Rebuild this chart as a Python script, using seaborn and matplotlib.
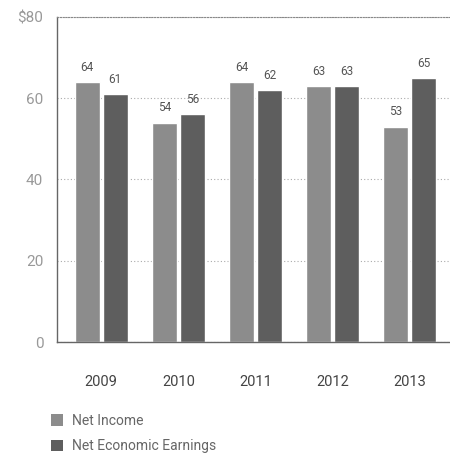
import matplotlib
matplotlib.use("Agg")
import matplotlib.pyplot as plt
import seaborn as sns
import pandas as pd
from matplotlib.patches import Patch

years = ["2009", "2010", "2011", "2012", "2013"]
net_income = [64, 54, 64, 63, 53]
net_economic = [61, 56, 62, 63, 65]
series = ["Net Income", "Net Economic Earnings"]
yticks = [0, 20, 40, 60, 80]
ytick_labels = ["0", "20", "40", "60", "$80"]

df = pd.DataFrame({
    "year": years * 2,
    "value": net_income + net_economic,
    "series": [series[0]] * len(years) + [series[1]] * len(years),
})

sns.set_style("white")
plt.rcParams["font.family"] = ["Roboto", "DejaVu Sans"]

colors = ["#8c8c8c", "#5e5e5e"]
fig = plt.figure(figsize=(4.5, 4.55), dpi=100)
ax = fig.add_axes([0.127, 0.248, 0.873, 0.715])

sns.barplot(data=df, x="year", y="value", hue="series", palette=colors,
            width=0.73, gap=0.11, ax=ax, legend=False, saturation=1)

for cont in ax.containers:
    ax.bar_label(cont, padding=6, fontsize=8.5, color="#555555")

ax.set_ylim(0, 80)
ax.set_xlim(-0.57, 4.52)
ax.set_yticks(yticks)
ax.set_yticklabels(ytick_labels)
ax.set_xlabel("")
ax.set_ylabel("")
ax.yaxis.grid(True, linestyle=(0, (1, 2)), color="#aaaaaa", linewidth=0.8)
ax.set_axisbelow(True)
ax.tick_params(axis="y", length=0, labelsize=11, labelcolor="#999999", pad=10)
ax.tick_params(axis="x", length=0, labelsize=10.5, labelcolor="#444444", pad=24)

ax.spines["right"].set_visible(False)
ax.spines["top"].set_linestyle((0, (1, 1.5)))
ax.spines["top"].set_color("#888888")
ax.spines["left"].set_color("#666666")
ax.spines["bottom"].set_color("#666666")
ax.spines["left"].set_linewidth(1.0)
ax.spines["bottom"].set_linewidth(1.0)

handles = [Patch(facecolor=c, edgecolor="none") for c in colors]
fig.legend(handles, series, loc="lower left", bbox_to_anchor=(0.085, -0.024),
           frameon=False, fontsize=10, labelcolor="#666666",
           handlelength=0.9, handleheight=0.9, handletextpad=0.6,
           labelspacing=0.85)

fig.savefig("out.png", dpi=100)
